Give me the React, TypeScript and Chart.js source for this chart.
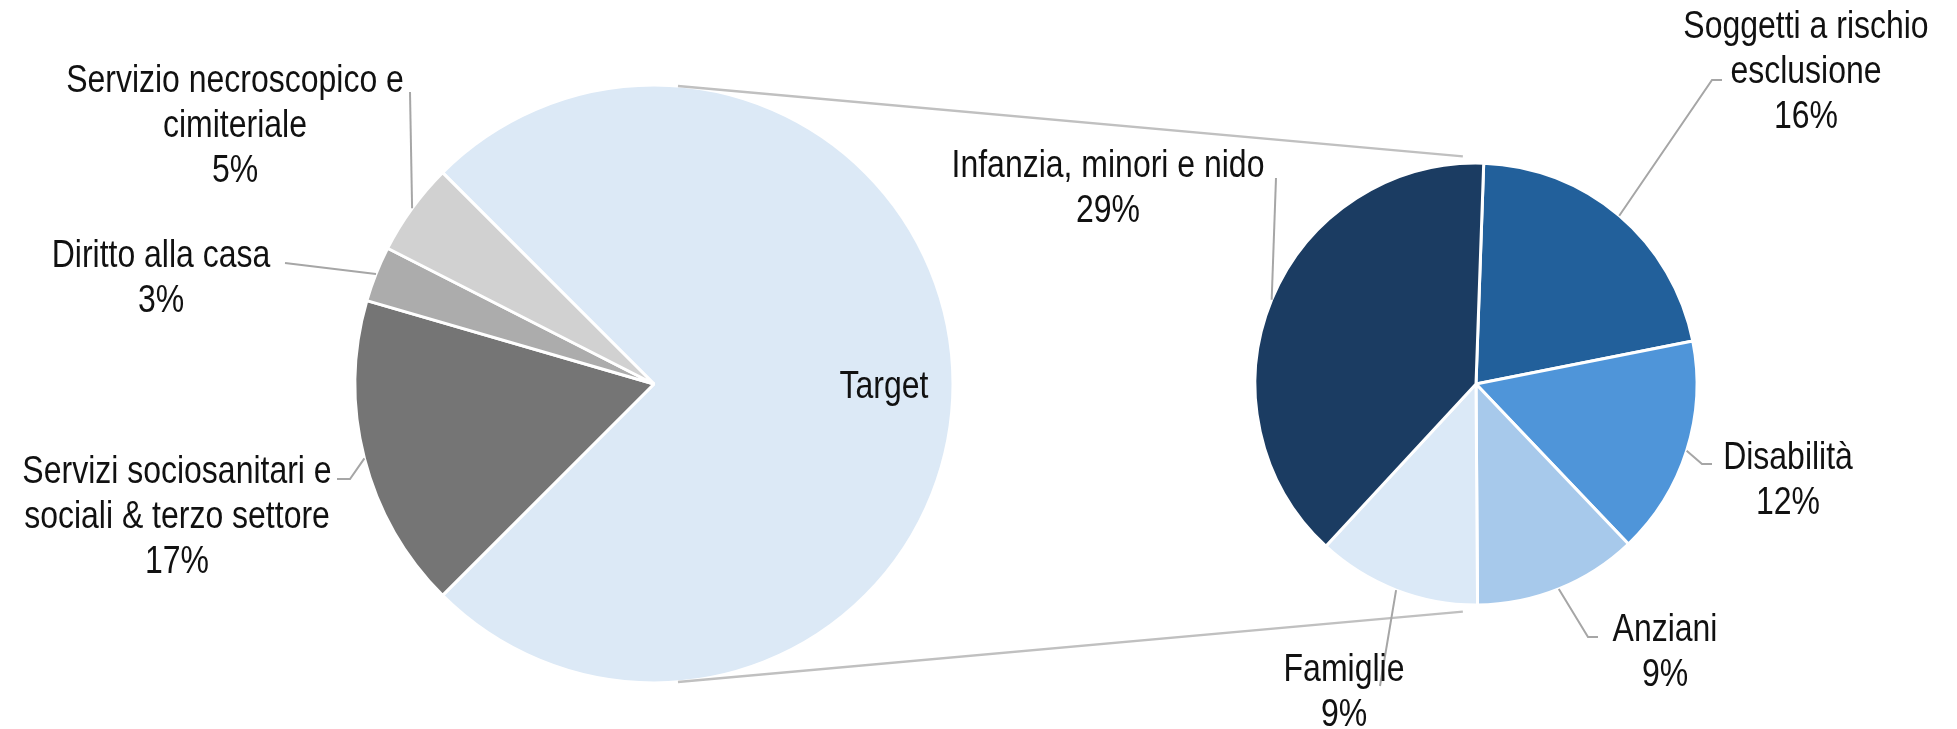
import React, { useEffect, useRef } from 'react';
import { Chart, registerables } from 'chart.js';

Chart.register(...registerables);

// ---------- data ----------
const mainLabels = [
  'Target',
  'Servizi sociosanitari e\nsociali & terzo settore',
  'Diritto alla casa',
  'Servizio necroscopico e\ncimiteriale',
];
const mainValues = [75, 17, 3, 5];
const mainShowPct = [false, true, true, true];

const subLabels = [
  'Soggetti a rischio\nesclusione',
  'Disabilità',
  'Anziani',
  'Famiglie',
  'Infanzia, minori e nido',
];
const subValues = [16, 12, 9, 9, 29];

// ---------- styles / layout ----------
const mainColors = ['#dce9f6', '#757575', '#acacac', '#d1d1d1'];
const subColors = ['#22609b', '#4f95d9', '#a7c9eb', '#dbe9f7', '#1b3c62'];

const W = 1957;
const H = 729;
const FONT_PX = 39;
const LINE_H = 45;
const X_SCALE = 0.82;
const TEXT_COLOR = '#111111';
const LEADER_COLOR = '#a6a6a6';
const CONNECTOR_COLOR = '#c0c0c0';

const MAIN_CENTER = { x: 654, y: 384, r: 299 };
const SUB_CENTER = { x: 1476, y: 384, r: 221 };

type LabelLayout = { x: number; y: number; leader?: number[][] };

const mainLayout: LabelLayout[] = [
  { x: 884, y: 387 },
  { x: 177, y: 472, leader: [[337, 479], [350, 479]] },
  { x: 161, y: 256, leader: [[285, 263]] },
  { x: 235, y: 81, leader: [[410, 92]] },
];

const subLayout: LabelLayout[] = [
  { x: 1806, y: 27, leader: [[1722, 80], [1712, 80]] },
  { x: 1788, y: 458, leader: [[1712, 464], [1702, 464]] },
  { x: 1665, y: 630, leader: [[1598, 637], [1588, 637]] },
  { x: 1344, y: 670, leader: [[1380, 686]] },
  { x: 1108, y: 166, leader: [[1276, 178]] },
];

const mainTotal = mainValues.reduce((a, b) => a + b, 0);

function drawTextBlock(ctx: CanvasRenderingContext2D, lines: string[], x: number, y: number) {
  ctx.font = `${FONT_PX}px "Liberation Sans", Arial, sans-serif`;
  ctx.fillStyle = TEXT_COLOR;
  ctx.textAlign = 'center';
  ctx.textBaseline = 'middle';
  lines.forEach((line, i) => {
    ctx.save();
    ctx.translate(x, y + i * LINE_H);
    ctx.scale(X_SCALE, 1);
    ctx.fillText(line, 0, 0);
    ctx.restore();
  });
}

function makeLabelPlugin(labels: string[], values: number[], layout: LabelLayout[], showPct: boolean[]) {
  return {
    id: 'pieLabels',
    afterDatasetsDraw(chart: any) {
      const ctx = chart.ctx as CanvasRenderingContext2D;
      const meta = chart.getDatasetMeta(0);
      meta.data.forEach((el: any, i: number) => {
        const lay = layout[i];
        if (!lay) return;
        const p = el.getProps(['x', 'y', 'startAngle', 'endAngle', 'outerRadius'], true);
        const mid = (p.startAngle + p.endAngle) / 2;
        const ax = p.x + Math.cos(mid) * p.outerRadius;
        const ay = p.y + Math.sin(mid) * p.outerRadius;
        if (lay.leader && lay.leader.length) {
          ctx.save();
          ctx.strokeStyle = LEADER_COLOR;
          ctx.lineWidth = 2;
          ctx.beginPath();
          ctx.moveTo(lay.leader[0][0], lay.leader[0][1]);
          for (let k = 1; k < lay.leader.length; k++) ctx.lineTo(lay.leader[k][0], lay.leader[k][1]);
          ctx.lineTo(ax, ay);
          ctx.stroke();
          ctx.restore();
        }
        const lines = labels[i].split('\n');
        if (showPct[i]) lines.push(Math.round((values[i] / mainTotal) * 100) + '%');
        drawTextBlock(ctx, lines, lay.x, lay.y);
      });
    },
  };
}

export default function App() {
  const leftRef = useRef<HTMLCanvasElement>(null);
  const rightRef = useRef<HTMLCanvasElement>(null);

  useEffect(() => {
    if (!leftRef.current || !rightRef.current) return;

    const left = new Chart(leftRef.current, {
      type: 'pie',
      data: {
        labels: mainLabels,
        datasets: [
          {
            data: mainValues,
            backgroundColor: mainColors,
            borderColor: '#ffffff',
            borderWidth: 3,
          },
        ],
      },
      options: {
        responsive: false,
        animation: false,
        devicePixelRatio: 1,
        events: [],
        rotation: -45,
        radius: MAIN_CENTER.r,
        layout: {
          padding: {
            left: 0,
            right: W - 2 * MAIN_CENTER.x,
            top: 2 * MAIN_CENTER.y - H,
            bottom: 0,
          },
        },
        plugins: { legend: { display: false }, tooltip: { enabled: false } },
      },
      plugins: [makeLabelPlugin(mainLabels, mainValues, mainLayout, mainShowPct)],
    });

    const connectorPlugin = {
      id: 'connectors',
      beforeDatasetsDraw(chart: any) {
        const ctx = chart.ctx as CanvasRenderingContext2D;
        const lm = left.getDatasetMeta(0).data[0] as any;
        const rm = chart.getDatasetMeta(0).data[0] as any;
        if (!lm || !rm) return;
        const lp = lm.getProps(['x', 'y', 'outerRadius'], true);
        const rp = rm.getProps(['x', 'y', 'outerRadius'], true);
        const aL = (4.6 * Math.PI) / 180;
        const aR = (3.3 * Math.PI) / 180;
        const rr = rp.outerRadius + 7;
        ctx.save();
        ctx.strokeStyle = CONNECTOR_COLOR;
        ctx.lineWidth = 2.5;
        ctx.beginPath();
        ctx.moveTo(lp.x + Math.sin(aL) * lp.outerRadius, lp.y - Math.cos(aL) * lp.outerRadius);
        ctx.lineTo(rp.x - Math.sin(aR) * rr, rp.y - Math.cos(aR) * rr);
        ctx.moveTo(lp.x + Math.sin(aL) * lp.outerRadius, lp.y + Math.cos(aL) * lp.outerRadius);
        ctx.lineTo(rp.x - Math.sin(aR) * rr, rp.y + Math.cos(aR) * rr);
        ctx.stroke();
        ctx.restore();
      },
    };

    const right = new Chart(rightRef.current, {
      type: 'pie',
      data: {
        labels: subLabels,
        datasets: [
          {
            data: subValues,
            backgroundColor: subColors,
            borderColor: '#ffffff',
            borderWidth: 3,
          },
        ],
      },
      options: {
        responsive: false,
        animation: false,
        devicePixelRatio: 1,
        events: [],
        rotation: 2,
        radius: SUB_CENTER.r,
        layout: {
          padding: {
            left: 2 * SUB_CENTER.x - W,
            right: 0,
            top: 2 * SUB_CENTER.y - H,
            bottom: 0,
          },
        },
        plugins: { legend: { display: false }, tooltip: { enabled: false } },
      },
      plugins: [connectorPlugin, makeLabelPlugin(subLabels, subValues, subLayout, subLabels.map(() => true))],
    });

    return () => {
      right.destroy();
      left.destroy();
    };
  }, []);

  const canvasStyle: React.CSSProperties = {
    position: 'absolute',
    left: 0,
    top: 0,
    width: W,
    height: H,
  };

  return (
    <div style={{ position: 'absolute', left: 0, top: 0, width: W, height: H, background: '#ffffff' }}>
      <canvas ref={leftRef} width={W} height={H} style={canvasStyle} />
      <canvas ref={rightRef} width={W} height={H} style={canvasStyle} />
    </div>
  );
}
